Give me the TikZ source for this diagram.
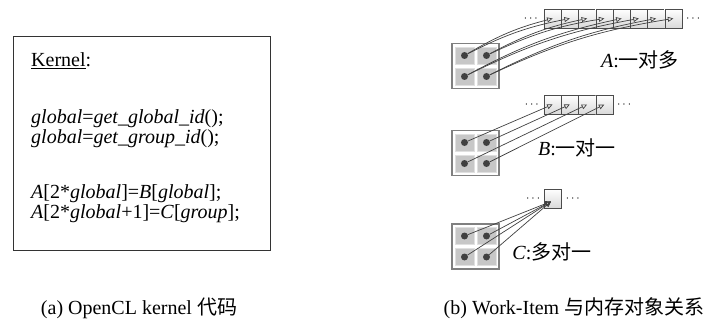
\documentclass[tikz,border=0pt]{standalone}
\usepackage{fontspec}
\setmainfont{Liberation Serif}
\newfontfamily\cjk{Noto Sans CJK SC}
\usetikzlibrary{arrows.meta, positioning, calc}

\begin{document}
\begin{tikzpicture}[
      x=1pt, y=1pt,
      every node/.style={font=\fontsize{20}{20}\selectfont},
      codebox/.style={draw=black!80, line width=1pt, minimum width=257pt, minimum height=213pt},
      codeline/.style={anchor=base west, inner sep=0pt},
      wgroup/.style={draw=black!50, fill=white, line width=1.5pt, minimum width=47pt, minimum height=45pt, inner sep=0pt},
      wcell/.style={fill=black!22, draw=black!12, minimum width=19pt, minimum height=17pt, inner sep=0pt},
      witem/.style={circle, fill=black!75, minimum size=7pt, inner sep=0pt},
      mcell/.style={draw=black!70, top color=white, bottom color=black!15, minimum width=17.25pt, minimum height=19pt, inner sep=0pt, outer sep=0pt},
      more/.style={font=\fontsize{13}{13}\selectfont, inner sep=0pt},
      wire/.style={draw=black!75, line width=0.7pt, -{Triangle[open, length=5.5pt, width=5pt]}}
    ]
    \useasboundingbox (0,0) rectangle (712,322);

    % (a) kernel code
    \node [codebox] (kbox) at (141.5,178.5) {};
    \node [codeline] (kname) at (31,255) {\underline{Kernel}:};
    \node [codeline] (kl1) at (31,199) {\textit{global}=\textit{get\_global\_id}();};
    \node [codeline] (kl2) at (31,179) {\textit{global}=\textit{get\_group\_id}();};
    \node [codeline] (kl3) at (31,124) {\textit{A}[2*\textit{global}]=\textit{B}[\textit{global}];};
    \node [codeline] (kl4) at (31,104) {\textit{A}[2*\textit{global}+1]=\textit{C}[\textit{group}];};

    % (b) work-items
    \foreach \g/\cy in {A/256, B/169, C/75.5} {
      \node [wgroup] (g\g) at (475.5,\cy) {};
      \foreach \i/\dx/\dy in {1/-11/10.5, 2/11/10.5, 3/-11/-10.5, 4/11/-10.5} {
        \node [wcell] (c\g\i) at ($(g\g)+(\dx,\dy)$) {};
        \node [witem] (w\g\i) at (c\g\i) {};
      }
    }

    % memory objects
    \node [mcell] (mA1) at (552.6,303.5) {};
    \foreach \i [count=\j from 2] in {1,...,7}
      \node [mcell, right=0pt of mA\i] (mA\j) {};
    \node [more, left=6pt of mA1] (lA) {$\cdots$};
    \node [more, right=4pt of mA8] (rA) {$\cdots$};

    \node [mcell] (mB1) at (552.6,217.5) {};
    \foreach \i [count=\j from 2] in {1,...,3}
      \node [mcell, right=0pt of mB\i] (mB\j) {};
    \node [more, left=5pt of mB1] (lB) {$\cdots$};
    \node [more, right=4pt of mB4] (rB) {$\cdots$};

    \node [mcell] (mC) at (553,123.5) {};
    \node [more, left=4pt of mC] (lC) {$\cdots$};
    \node [more, right=4pt of mC] (rC) {$\cdots$};

    % connections
    \foreach \i/\a/\b in {1/1/2, 2/3/4, 3/5/6, 4/7/8} {
      \draw [wire] (wA\i) to[bend left=8] (mA\a.center);
      \draw [wire] (wA\i) to[bend left=8] (mA\b.center);
    }
    \foreach \i in {1,...,4} {
      \draw [wire] (wB\i) -- (mB\i.center);
      \draw [wire] (wC\i) -- ([shift={(-2,-3)}]mC.center);
    }

    \node (labA) at (640,262) {\textit{A}:{\cjk 一对多}};
    \node (labB) at (577,174) {\textit{B}:{\cjk 一对一}};
    \node (labC) at (552,70) {\textit{C}:{\cjk 多对一}};

    % captions
    \node (capa) at (139,14) {(a) OpenCL kernel {\cjk 代码}};
    \node (capb) at (574,14) {(b) Work-Item {\cjk 与内存对象关系}};
\end{tikzpicture}
\end{document}
